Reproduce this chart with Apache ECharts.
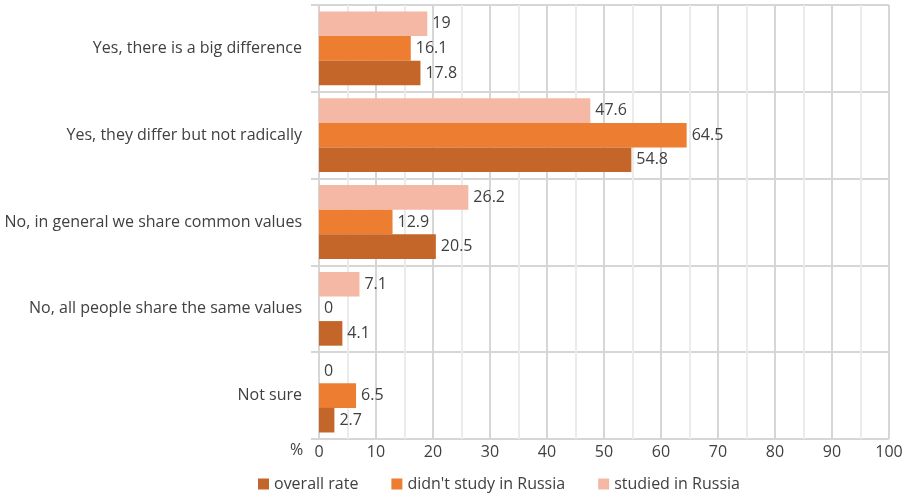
<!DOCTYPE html>
<html><head><meta charset="utf-8">
<script src="https://cdn.jsdelivr.net/npm/echarts@6/dist/echarts.min.js"></script>
<style>html,body{margin:0;padding:0;background:#fff}#c{width:908px;height:495px}</style>
</head><body><div id="c"></div>
<script>
const categories = ["Yes, there is a big difference","Yes, they differ but not radically","No, in general we share common values","No, all people share the same values","Not sure"];
const studiedInRussia = [19, 47.6, 26.2, 7.1, 0];
const didntStudyInRussia = [16.1, 64.5, 12.9, 0, 6.5];
const overallRate = [17.8, 54.8, 20.5, 4.1, 2.7];
const xTicks = [0,10,20,30,40,50,60,70,80,90,100];

const font = "'Open Sans', sans-serif";
const txt = '#404040';
const chart = echarts.init(document.getElementById('c'));
const lbl = {show:true, position:'right', distance:5, color:txt, fontSize:16, fontFamily:font};
chart.setOption({
  animation:false,
  grid:{left:319, right:19, top:5, bottom:56, containLabel:false},
  legend:{top:471, left:253, itemWidth:11, itemHeight:11, itemGap:33, icon:'rect',
    textStyle:{color:txt, fontSize:16, fontFamily:font},
    data:['overall rate',"didn't study in Russia",'studied in Russia']},
  xAxis:{type:'value', min:0, max:100, interval:10,
    axisLine:{show:false}, axisTick:{show:false},
    axisLabel:{color:txt, fontSize:16, fontFamily:font, margin:5, formatter:v=>xTicks.includes(v)?String(v):''},
    splitLine:{show:true, lineStyle:{color:'#d6d6d6', width:2}},
    minorTick:{show:false, splitNumber:2},
    minorSplitLine:{show:true, lineStyle:{color:'#ebebeb', width:2}}},
  yAxis:{type:'category', data:categories, inverse:true,
    axisLine:{show:true, lineStyle:{color:'#d6d6d6', width:2}},
    axisTick:{show:true, length:8, lineStyle:{color:'#d6d6d6', width:2}},
    axisLabel:{color:txt, fontSize:16, fontFamily:font, margin:17},
    splitLine:{show:true, lineStyle:{color:'#d6d6d6', width:2}}},
  graphic:[{type:'text', left:290, top:442, style:{text:'%', fill:txt, font:"16px 'Open Sans', sans-serif"}},
           {type:'rect', shape:{x:319,y:5,width:570,height:0}, style:{stroke:'#d6d6d6', lineWidth:2}, silent:true}],
  series:[
    {name:'studied in Russia', type:'bar', data:studiedInRussia, barGap:'0%', barCategoryGap:'15%', itemStyle:{color:'#F4B8A4'}, label:lbl},
    {name:"didn't study in Russia", type:'bar', data:didntStudyInRussia, itemStyle:{color:'#ED7D31'}, label:lbl},
    {name:'overall rate', type:'bar', data:overallRate, itemStyle:{color:'#C4652A'}, label:lbl}
  ]
});
</script></body></html>
